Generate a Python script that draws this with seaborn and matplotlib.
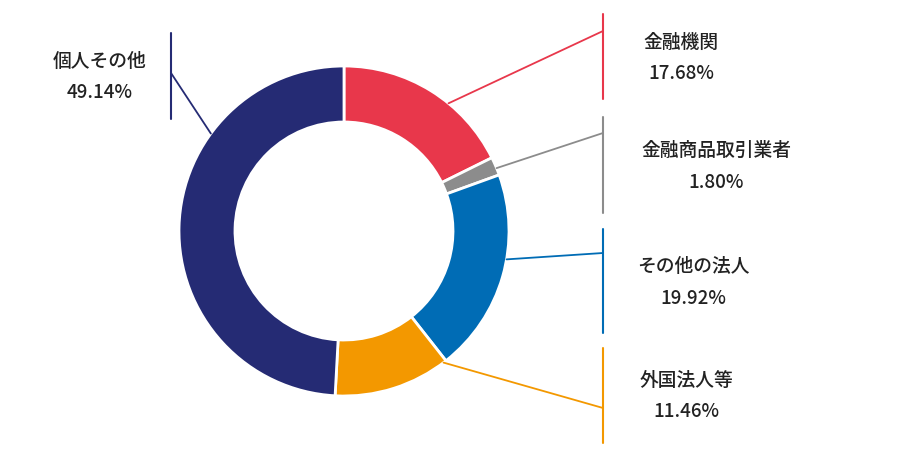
import numpy as np
import matplotlib
matplotlib.use("Agg")
import matplotlib.pyplot as plt
import seaborn as sns

# 所有者別株式分布
labels = ["金融機関", "金融商品取引業者", "その他の法人", "外国法人等", "個人その他"]
shares = [17.68, 1.80, 19.92, 11.46, 49.14]
colors = ["#E8374B", "#8C8C8C", "#006CB5", "#F39800", "#252B74"]

# leader line layout (pixel coords, y from top)
anchor_deg = [39.3, 67.6, 99.9, 142.9, 306.2]   # clockwise from top
bar_x = [603, 603, 603, 603, 171]
bar_y0 = [14, 117, 229, 348, 33]
bar_y1 = [99, 213, 333, 443, 119]
join_y = [31, 133, 253, 408, 73]
text_x = [681, 716, 693, 686, 100]
name_y = [42, 150, 266, 380, 61]
pct_y = [73, 182, 299, 412, 92]

sns.set_theme(style="white")
plt.rcParams["font.family"] = ["Noto Sans CJK JP", "DejaVu Sans"]

W, H = 904, 462
fig = plt.figure(figsize=(W / 100, H / 100), dpi=100)
ax = fig.add_axes([0, 0, 1, 1])

cx, cy, r_out, ring = 344, 231, 165, 56
ax.pie(shares, colors=colors, startangle=90, counterclock=False,
       center=(cx, H - cy), radius=r_out,
       wedgeprops=dict(width=ring, edgecolor="white", linewidth=2))

for i in range(len(labels)):
    a = np.deg2rad(anchor_deg[i])
    px = cx + r_out * np.sin(a)
    py = cy - r_out * np.cos(a)
    c = colors[i]
    ax.plot([px, bar_x[i]], [H - py, H - join_y[i]], color=c, lw=1.3)
    ax.plot([bar_x[i], bar_x[i]], [H - bar_y0[i], H - bar_y1[i]], color=c, lw=1.5)
    ax.text(text_x[i], H - name_y[i], labels[i], ha="center", va="center",
            fontsize=13.5, fontweight="medium", color="#222222")
    ax.text(text_x[i], H - pct_y[i], f"{shares[i]:.2f}%", ha="center", va="center",
            fontsize=13.5, fontweight="medium", color="#222222")

ax.set_xlim(0, W)
ax.set_ylim(0, H)
ax.set_aspect("equal")
ax.axis("off")

fig.savefig("out.png", dpi=100)
